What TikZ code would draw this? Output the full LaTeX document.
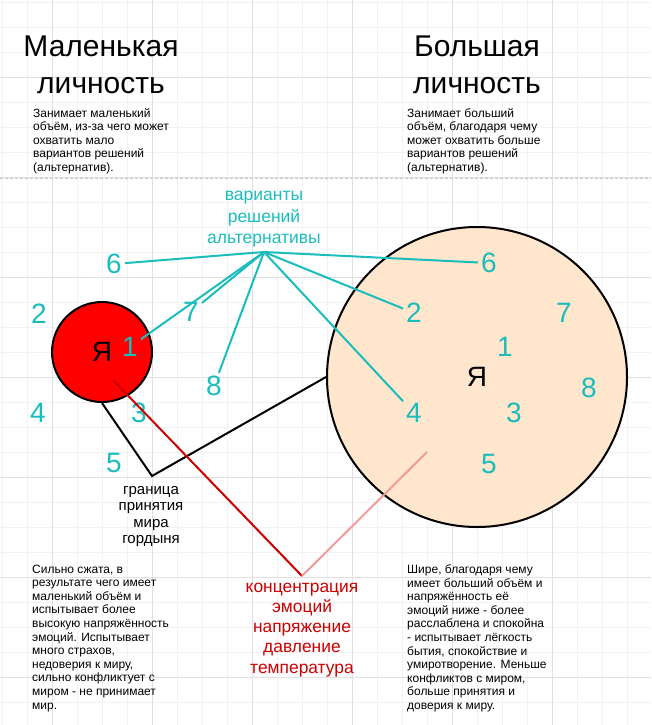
\documentclass[tikz,border=0pt]{standalone}
\usepackage{fontspec}
\setmainfont{Liberation Sans}
\usepackage{xcolor}
\definecolor{alttext}{RGB}{26,188,188}
\definecolor{peach}{HTML}{FFE6CC}
\definecolor{conctext}{HTML}{CC0000}
\definecolor{pinkline}{HTML}{F19C99}
\definecolor{gridminor}{gray}{0.95}
\definecolor{gridmajor}{gray}{0.88}

\begin{document}
\begin{tikzpicture}[x=1pt,y=-1pt,
	title/.style={align=center,inner sep=0pt,font=\fontsize{30}{37}\selectfont},
	desc/.style={align=left,inner sep=0pt,anchor=north west,font=\fontsize{12}{13.6}\selectfont},
	digit/.style={text=alttext,inner sep=3pt,font=\fontsize{28}{28}\selectfont},
	altline/.style={draw=alttext,line width=2pt},
	self/.style={circle,draw=black,line width=2pt,font=\fontsize{28}{28}\selectfont}]
		
		\useasboundingbox (0,0) rectangle (651,725);
		
		% Grid
		\foreach \x in {2,27,...,651} \draw[gridminor,line width=0.8pt] (\x,0) -- (\x,725);
		\foreach \y in {2,27,...,725} \draw[gridminor,line width=0.8pt] (0,\y) -- (651,\y);
		\foreach \x in {52,152,...,651} \draw[gridmajor,line width=0.8pt] (\x,0) -- (\x,725);
		\foreach \y in {77,177,...,725} \draw[gridmajor,line width=0.8pt] (0,\y) -- (651,\y);
		\draw[gray!45,dash pattern=on 3pt off 2pt] (0,178) -- (651,178);
		
		% Headings and descriptions
		\node[title,anchor=north] (tsmall) at (101,35.5) {Маленькая\\личность};
		\node[title,anchor=north] (tbig) at (477,35.5) {Большая\\личность};
		\node[desc] (dsmall) at (33,108) {Занимает маленький\\объём, из-за чего может\\охватить мало\\вариантов решений\\(альтернатив).};
		\node[desc] (dbig) at (407,108) {Занимает больший\\объём, благодаря чему\\может охватить больше\\вариантов решений\\(альтернатив).};
		
		% Small and big self
		\node[self,fill=red,minimum size=100pt] (small) at (102,352) {Я};
		\node[self,fill=peach,minimum size=300pt] (big) at (477,377) {Я};
		
		% Alternatives
		\node[text=alttext,align=center,inner sep=0pt,anchor=north,font=\fontsize{17.5}{21.5}\selectfont] (alt) at (264,191) {варианты\\решений\\альтернативы};
		\coordinate (hub) at (264,252);
		\node[digit] (l6) at (114,264) {6};
		\node[digit] (l2) at (39,314) {2};
		\node[digit] (l1) at (130,347) {1};
		\node[digit] (l7) at (191,312) {7};
		\node[digit] (l8) at (214,386) {8};
		\node[digit] (l4) at (38,413) {4};
		\node[digit] (l3) at (139,413) {3};
		\node[digit] (l5) at (114,463) {5};
		\node[digit] (r6) at (489,263) {6};
		\node[digit] (r2) at (414,313) {2};
		\node[digit] (r7) at (564,313) {7};
		\node[digit] (r1) at (505,347) {1};
		\node[digit] (r8) at (589,388) {8};
		\node[digit] (r4) at (414,413) {4};
		\node[digit] (r3) at (514,413) {3};
		\node[digit] (r5) at (489,464) {5};
		\foreach \d in {l6,l1,l7,l8,r6,r2,r4}
			\draw[altline] (hub) -- (\d);
		
		% Border of accepting the world
		\coordinate (corner) at (152,476);
		\draw[line width=2pt] (small.south) -- (corner) -- (big.west);
		\node[align=center,inner sep=0pt,anchor=north,font=\fontsize{15}{16.5}\selectfont] (border) at (151,486) {граница\\принятия\\мира\\гордыня};
		
		% Concentration of emotions
		\coordinate (cs) at (113,380);
		\coordinate (cv) at (302,576);
		\coordinate (ce) at (427,452);
		\draw[conctext,line width=2pt] (cs) -- (cv);
		\draw[pinkline,line width=2pt] (cv) -- (ce);
		\node[text=conctext,align=center,inner sep=0pt,anchor=north,font=\fontsize{17.4}{20.3}\selectfont] (conc) at (302,582.5) {концентрация\\эмоций\\напряжение\\давление\\температура};
		
		% Lower descriptions
		\node[desc] (esmall) at (32,564.5) {Сильно сжата, в\\результате чего имеет\\маленький объём и\\испытывает более\\высокую напряжённость\\эмоций. Испытывает\\много страхов,\\недоверия к миру,\\сильно конфликтует с\\миром - не принимает\\мир.};
		\node[desc] (ebig) at (407,564.5) {Шире, благодаря чему\\имеет больший объём и\\напряжённость её\\эмоций ниже - более\\расслаблена и спокойна\\- испытывает лёгкость\\бытия, спокойствие и\\умиротворение. Меньше\\конфликтов с миром,\\больше принятия и\\доверия к миру.};
		
	\end{tikzpicture}
\end{document}
